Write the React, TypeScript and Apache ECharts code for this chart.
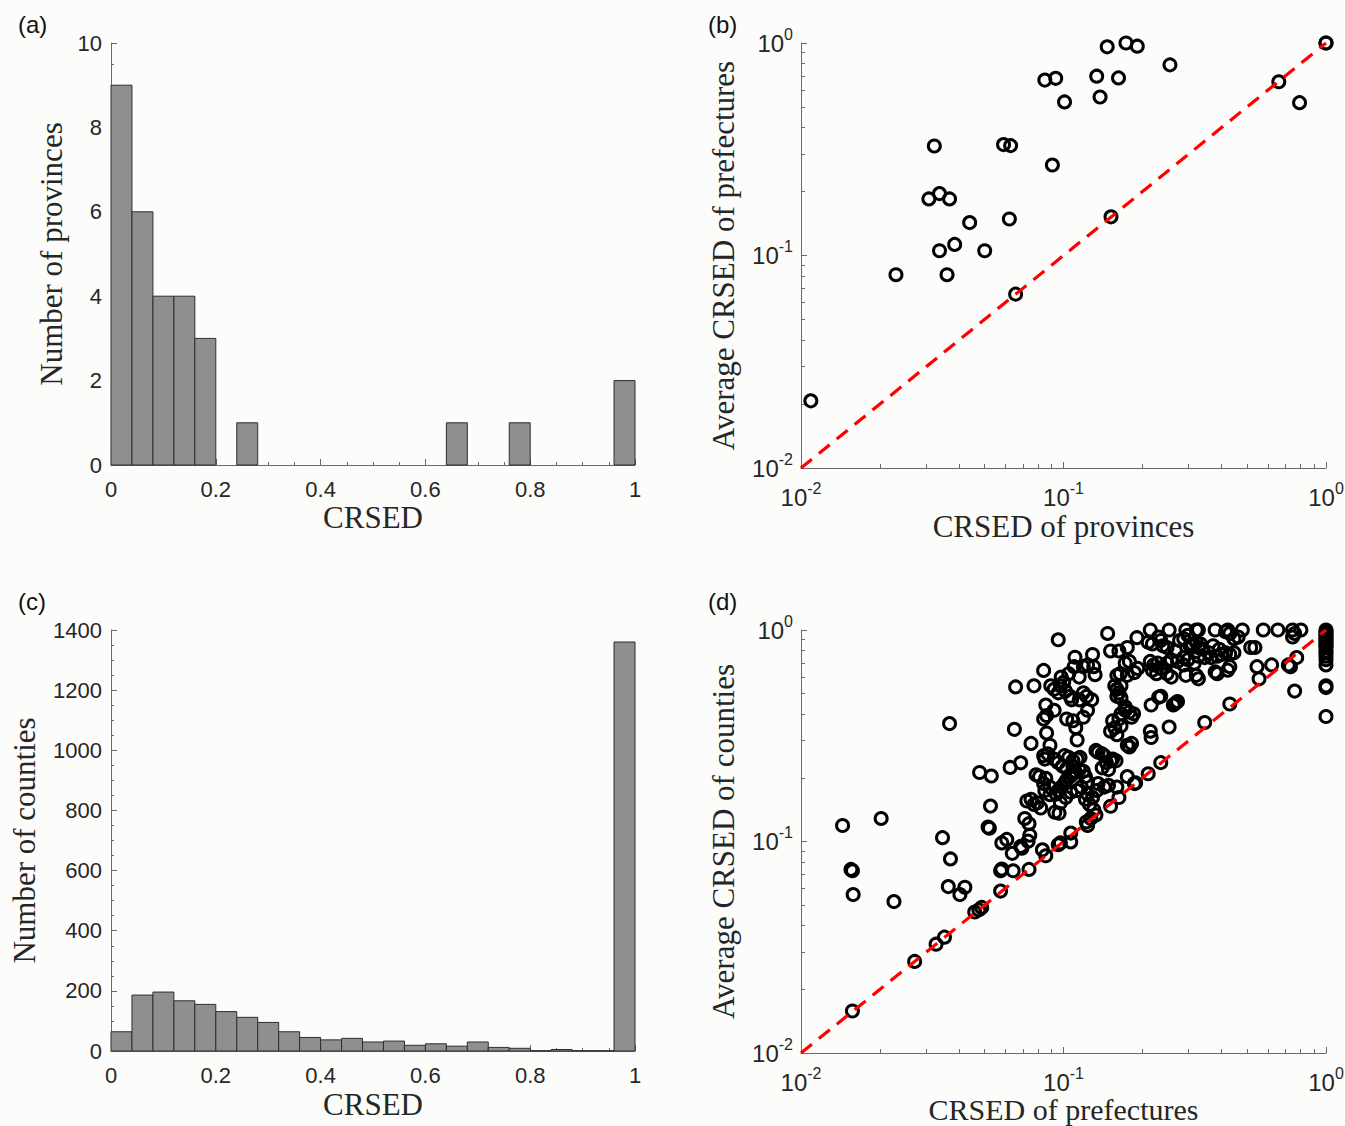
import React, { useEffect, useRef } from 'react';
import * as echarts from 'echarts';

// ---------- data ----------
const BIN_EDGES = [0, 0.04, 0.08, 0.12, 0.16, 0.2, 0.24, 0.28, 0.32, 0.36, 0.4, 0.44, 0.48, 0.52, 0.56, 0.6, 0.64, 0.68, 0.72, 0.76, 0.8, 0.84, 0.88, 0.92, 0.96, 1];
const PROVINCE_COUNTS = [9, 6, 4, 4, 3, 0, 1, 0, 0, 0, 0, 0, 0, 0, 0, 0, 1, 0, 0, 1, 0, 0, 0, 0, 2];
const COUNTY_COUNTS = [64, 186, 196, 167, 155, 131, 112, 95, 64, 45, 37, 42, 30, 33, 19, 24, 16, 30, 12, 9, 1, 5, 1, 1, 1360];

const LINEAR_X_TICKS = { min: 0, max: 1, interval: 0.2 };
const PROV_Y_TICKS = { min: 0, max: 10, interval: 2 };
const COUNTY_Y_TICKS = { min: 0, max: 1400, interval: 200 };
const LOG_RANGE = { min: 0.01, max: 1 };
const LOG_MINOR = [0.02, 0.03, 0.04, 0.05, 0.06, 0.07, 0.08, 0.09, 0.2, 0.3, 0.4, 0.5, 0.6, 0.7, 0.8, 0.9];
const DIAGONAL = [[0.01, 0.01], [1, 1]];

// (b) CRSED of provinces vs average CRSED of prefectures
const PROV_POINTS = [
  [0.0109, 0.0207], [0.023, 0.0812], [0.0307, 0.1846], [0.0322, 0.3276], [0.0337, 0.1956], [0.0368, 0.1846],
  [0.0337, 0.1053], [0.036, 0.0812], [0.0385, 0.1128], [0.0439, 0.1429], [0.0501, 0.1053], [0.0591, 0.3326],
  [0.0629, 0.3289], [0.0622, 0.1485], [0.0657, 0.0658], [0.0849, 0.669], [0.0934, 0.682], [0.0907, 0.2665],
  [0.1009, 0.528], [0.1338, 0.698], [0.1378, 0.557], [0.1467, 0.959], [0.1517, 0.152], [0.162, 0.685],
  [0.173, 1.0], [0.191, 0.966], [0.2544, 0.789], [0.661, 0.657], [0.793, 0.524], [1, 1], [1, 1],
];

// (d) CRSED of prefectures vs average CRSED of counties
const PREF_POINTS = [
  [0.0144, 0.119], [0.0202, 0.1285], [0.0155, 0.0738], [0.0157, 0.0727], [0.0158, 0.0561], [0.0226, 0.052], [0.0157, 0.0158],
  [0.0368, 0.361], [0.0346, 0.1043], [0.0371, 0.0827], [0.0364, 0.0612], [0.0403, 0.0561], [0.0421, 0.0608],
  [0.0271, 0.0271], [0.0327, 0.0327], [0.0352, 0.0353], [0.0476, 0.0475], [0.0488, 0.0488], [0.0459, 0.0464], [0.0576, 0.0583],
  [0.0479, 0.212], [0.0531, 0.204], [0.0527, 0.147], [0.0516, 0.117], [0.0522, 0.1155],
  [0.0626, 0.224], [0.0687, 0.2355], [0.0657, 0.538], [0.0772, 0.5445], [0.065, 0.339], [0.0752, 0.291], [0.084, 0.644], [0.0955, 0.899],
  [0.0582, 0.0985], [0.0608, 0.1023], [0.0638, 0.0879], [0.0576, 0.0727], [0.0582, 0.0741], [0.0643, 0.0727], [0.0739, 0.0738],
  [0.0687, 0.0948], [0.0694, 0.093], [0.0712, 0.1285], [0.0739, 0.1214], [0.0744, 0.1071], [0.0733, 0.1004],
  [0.0831, 0.0913], [0.0856, 0.0856], [0.0955, 0.0966], [0.0973, 0.0985], [0.1066, 0.0995], [0.1066, 0.1096], [0.1221, 0.1237],
  [0.1329, 0.1335], [0.1511, 0.1468], [0.1626, 0.1614],
  [0.0725, 0.1554], [0.0752, 0.1584], [0.0772, 0.1496], [0.0795, 0.1525], [0.0819, 0.144],
  [0.0786, 0.2066], [0.081, 0.2027], [0.0856, 0.1989], [0.084, 0.1879], [0.0888, 0.1809], [0.0849, 0.1741], [0.0888, 0.1664],
  [0.0938, 0.1676], [0.0955, 0.1741], [0.0983, 0.1809], [0.1009, 0.1879], [0.1028, 0.1952], [0.1059, 0.2027], [0.1086, 0.209],
  [0.1106, 0.2147], [0.1148, 0.2188], [0.119, 0.2147], [0.1212, 0.2027], [0.1235, 0.1915], [0.1169, 0.1809], [0.1127, 0.1741],
  [0.1066, 0.1709], [0.102, 0.1614], [0.0973, 0.1525], [0.0927, 0.1376], [0.0962, 0.136], [0.1235, 0.1676], [0.129, 0.1614],
  [0.1354, 0.1879], [0.143, 0.1809], [0.1212, 0.1584], [0.1257, 0.1496], [0.1304, 0.1413], [0.1271, 0.1285], [0.1235, 0.1191],
  [0.1339, 0.1741],
  [0.084, 0.2547], [0.0849, 0.2452], [0.0872, 0.2596], [0.0888, 0.2853], [0.0862, 0.326], [0.0921, 0.2452], [0.0955, 0.236],
  [0.1009, 0.2547], [0.1047, 0.2499], [0.1086, 0.2406], [0.1127, 0.2452], [0.1156, 0.2499], [0.0991, 0.2273], [0.1028, 0.2205],
  [0.1086, 0.2273],
  [0.0856, 0.4418], [0.0862, 0.3942], [0.084, 0.3795], [0.0921, 0.4173], [0.1028, 0.3795], [0.1086, 0.3724], [0.1114, 0.3451],
  [0.1127, 0.302], [0.119, 0.3868], [0.1235, 0.4173], [0.1281, 0.4677], [0.1225, 0.4859], [0.119, 0.5047], [0.1148, 0.4677],
  [0.1074, 0.4677], [0.1059, 0.4859],
  [0.0894, 0.5445], [0.0921, 0.5242], [0.0973, 0.5445], [0.1002, 0.5656], [0.1017, 0.5143], [0.0955, 0.5047], [0.098, 0.5988],
  [0.1047, 0.6218], [0.1098, 0.6711], [0.1106, 0.7433], [0.1148, 0.5988], [0.119, 0.6711], [0.1235, 0.6839], [0.129, 0.7662],
  [0.1319, 0.6149], [0.1304, 0.6711],
  [0.1329, 0.2696], [0.1354, 0.2645], [0.1404, 0.2596], [0.143, 0.2547], [0.1457, 0.236], [0.1404, 0.223], [0.1484, 0.2188],
  [0.1511, 0.2406], [0.1539, 0.2452], [0.1585, 0.2406], [0.1597, 0.1809], [0.1484, 0.1844],
  [0.1511, 0.3322], [0.1539, 0.3724], [0.1568, 0.3451], [0.1597, 0.3199], [0.1626, 0.3795], [0.1656, 0.4018], [0.1718, 0.4173],
  [0.1782, 0.4095], [0.1849, 0.4018], [0.1816, 0.3868], [0.1656, 0.3517],
  [0.1597, 0.4859], [0.1656, 0.5445], [0.1568, 0.5445], [0.1597, 0.5242], [0.1626, 0.5047], [0.1656, 0.4767], [0.1718, 0.4335],
  [0.1644, 0.6218], [0.1597, 0.6102], [0.175, 0.6102], [0.1718, 0.697], [0.1782, 0.7104], [0.1863, 0.6291], [0.1918, 0.6584],
  [0.1511, 0.7959], [0.1626, 0.7959], [0.175, 0.8267], [0.1904, 0.9198], [0.1473, 0.963],
  [0.175, 0.2853], [0.1782, 0.28], [0.1816, 0.2908], [0.175, 0.2027], [0.1863, 0.1879], [0.1883, 0.1893], [0.2102, 0.209],
  [0.2141, 0.3322], [0.2157, 0.3101], [0.2347, 0.236], [0.2526, 0.3477], [0.2304, 0.4803], [0.2157, 0.4418], [0.262, 0.4418],
  [0.2669, 0.4503], [0.2718, 0.4589],
  [0.2141, 1], [0.2526, 1], [0.2925, 1], [0.3206, 1], [0.3265, 1], [0.3782, 1], [0.4222, 1], [0.48, 1], [0.5768, 1], [0.6557, 1], [0.7456, 1], [0.8024, 1],
  [0.2102, 0.8754], [0.2181, 0.859], [0.2304, 0.9268], [0.2347, 0.8923], [0.239, 0.8428], [0.248, 0.8267], [0.2669, 0.7959],
  [0.2768, 0.8923], [0.2872, 0.9094], [0.2979, 0.9446], [0.3034, 0.8428], [0.309, 0.859], [0.3206, 0.8754], [0.3326, 0.859],
  [0.3265, 0.8267], [0.3388, 0.8112], [0.358, 0.7809], [0.3713, 0.8428], [0.3923, 0.8112], [0.4145, 0.981], [0.4301, 0.963],
  [0.446, 0.9094], [0.4627, 0.9268],
  [0.2141, 0.7104], [0.2205, 0.6839], [0.2287, 0.697], [0.2347, 0.6584], [0.248, 0.697], [0.2573, 0.724], [0.2718, 0.7104],
  [0.2872, 0.7404], [0.2979, 0.724], [0.3148, 0.697], [0.3265, 0.7518], [0.3451, 0.7404], [0.3646, 0.7404], [0.3852, 0.7518],
  [0.3996, 0.7662], [0.4145, 0.7809], [0.4301, 0.7662], [0.446, 0.7809],
  [0.2181, 0.646], [0.2262, 0.6218], [0.248, 0.6218], [0.2573, 0.5988], [0.2872, 0.6839], [0.2925, 0.6102], [0.3206, 0.6102],
  [0.3265, 0.5875], [0.3782, 0.6339], [0.3852, 0.6218], [0.4222, 0.646], [0.4301, 0.6711],
  [0.5166, 0.8267], [0.5359, 0.8267], [0.5459, 0.6711], [0.5559, 0.5875], [0.6206, 0.6839], [0.7189, 0.6839], [0.7322, 0.6711],
  [0.7734, 0.7404], [0.7456, 0.9268], [0.7595, 0.963], [0.7595, 0.5143], [0.4301, 0.4469], [0.3451, 0.3654], [0.2347, 0.4859],
  [1, 1], [1, 0.981], [1, 0.963], [1, 0.9446], [1, 0.9268], [1, 0.9094], [1, 0.8923], [1, 0.8754], [1, 0.859], [1, 0.8428],
  [1, 0.8267], [1, 0.7959], [1, 0.7809], [1, 0.7518], [1, 0.724], [1, 0.6839], [1, 0.5445], [1, 0.5341], [1, 0.3899],
];

// ---------- styles ----------
const AXIS_COLOR = '#6a6a6a';
const TEXT_COLOR = '#262626';
const SANS = 'Liberation Sans';
const SERIF = 'Liberation Serif';
const NAME_STYLE = { color: TEXT_COLOR, fontFamily: SERIF, fontSize: 31 };

const lineStyle = { color: AXIS_COLOR, width: 1 };

function linearAxis(gridIndex: number, ticks: any, name: string, nameGap: number, margin: number) {
  return {
    type: 'value', gridIndex, ...ticks,
    axisLine: { show: true, onZero: false, lineStyle },
    axisTick: { show: true, inside: true, length: 6, lineStyle },
    minorTick: { show: true, splitNumber: 4, length: 3, lineStyle },
    splitLine: { show: false }, minorSplitLine: { show: false },
    axisLabel: {
      color: TEXT_COLOR, fontFamily: SANS, fontSize: 22, margin,
      formatter: (v: number) => String(+v.toFixed(6)),
    },
    name, nameLocation: 'middle', nameGap, nameTextStyle: NAME_STYLE,
  };
}

function logAxis(gridIndex: number, name: string, nameGap: number, margin: number, nameSize = 31) {
  return {
    type: 'log', logBase: 10, gridIndex, ...LOG_RANGE,
    axisLine: { show: true, onZero: false, lineStyle },
    axisTick: { show: true, inside: true, length: 6, lineStyle },
    splitLine: { show: false },
    axisLabel: {
      margin, color: TEXT_COLOR, fontFamily: SANS, fontSize: 24,
      formatter: (v: number) => '{b|10}{s|' + Math.round(Math.log10(v)) + '}',
      rich: {
        b: { color: TEXT_COLOR, fontFamily: SANS, fontSize: 24 },
        s: { color: TEXT_COLOR, fontFamily: SANS, fontSize: 16, padding: [0, 0, 18, 0] },
      },
    },
    name, nameLocation: 'middle', nameGap, nameTextStyle: { ...NAME_STYLE, fontSize: nameSize },
  };
}

function minorLogAxis(gridIndex: number, position: string) {
  return {
    type: 'value', gridIndex, position, min: -2, max: 0,
    axisLine: { show: false, onZero: false },
    axisLabel: { show: false },
    splitLine: { show: false },
    axisTick: { show: true, inside: true, length: 4, lineStyle, customValues: LOG_MINOR.map((v) => Math.log10(v)) },
  };
}

function histSeries(counts: number[], axisIndex: number) {
  return {
    type: 'custom', xAxisIndex: axisIndex, yAxisIndex: axisIndex,
    data: counts.map((c, i) => [BIN_EDGES[i], BIN_EDGES[i + 1], c]),
    encode: { x: [0, 1], y: 2 },
    renderItem: (_params: any, api: any) => {
      const c = api.value(2);
      if (!c) return { type: 'group', children: [] };
      const p0 = api.coord([api.value(0), c]);
      const p1 = api.coord([api.value(1), 0]);
      return {
        type: 'rect',
        shape: { x: p0[0], y: p0[1], width: p1[0] - p0[0], height: p1[1] - p0[1] },
        style: { fill: '#8e908d', stroke: '#2e2e2e', lineWidth: 1 },
      };
    },
  };
}

function scatterSeries(points: number[][], axisIndex: number) {
  return {
    type: 'scatter', xAxisIndex: axisIndex, yAxisIndex: axisIndex, data: points,
    symbol: 'circle', symbolSize: 12, clip: false,
    itemStyle: { color: 'rgba(0,0,0,0)', borderColor: '#000', borderWidth: 3, opacity: 1 },
  };
}

function diagSeries(axisIndex: number) {
  return {
    type: 'line', xAxisIndex: axisIndex, yAxisIndex: axisIndex, data: DIAGONAL,
    symbol: 'none', clip: false, z: 5,
    lineStyle: { color: '#ff0000', width: 3.2, type: [14, 9] },
  };
}

const panelLabel = (text: string, left: number, top: number) => ({
  type: 'text', left, top, style: { text, fill: '#111', font: '24px "Liberation Sans", Arial, sans-serif' },
});

const option = {
  animation: false,
  backgroundColor: '#fcfdfb',
  grid: [
    { left: 111, top: 43, width: 524, height: 422, containLabel: false, outerBoundsMode: 'none' },
    { left: 801, top: 43, width: 525, height: 425, containLabel: false, outerBoundsMode: 'none' },
    { left: 111, top: 630, width: 524, height: 421, containLabel: false, outerBoundsMode: 'none' },
    { left: 801, top: 630, width: 525, height: 423, containLabel: false, outerBoundsMode: 'none' },
  ],
  xAxis: [
    linearAxis(0, LINEAR_X_TICKS, 'CRSED', 37, 13),
    logAxis(1, 'CRSED of provinces', 43, 12),
    minorLogAxis(1, 'bottom'),
    linearAxis(2, LINEAR_X_TICKS, 'CRSED', 38, 13),
    logAxis(3, 'CRSED of prefectures', 36, 12, 30),
    minorLogAxis(3, 'bottom'),
  ],
  yAxis: [
    linearAxis(0, PROV_Y_TICKS, 'Number of provinces', 44, 9),
    logAxis(1, 'Average CRSED of prefectures', 62, 8),
    minorLogAxis(1, 'left'),
    linearAxis(2, COUNTY_Y_TICKS, 'Number of counties', 71, 9),
    logAxis(3, 'Average CRSED of counties', 62, 8),
    minorLogAxis(3, 'left'),
  ],
  graphic: [
    panelLabel('(a)', 18, 12),
    panelLabel('(b)', 708, 12),
    panelLabel('(c)', 18, 589),
    panelLabel('(d)', 708, 589),
  ],
  series: [
    histSeries(PROVINCE_COUNTS, 0),
    scatterSeries(PROV_POINTS, 1),
    diagSeries(1),
    histSeries(COUNTY_COUNTS, 3),
    scatterSeries(PREF_POINTS, 4),
    diagSeries(4),
  ],
};

export default function App() {
  const ref = useRef<HTMLDivElement>(null);
  useEffect(() => {
    const chart = echarts.init(ref.current!, null, { renderer: 'svg' });
    chart.setOption(option as any);
    return () => chart.dispose();
  }, []);
  return <div ref={ref} style={{ position: 'absolute', left: 0, top: 0, width: 1345, height: 1126 }} />;
}
